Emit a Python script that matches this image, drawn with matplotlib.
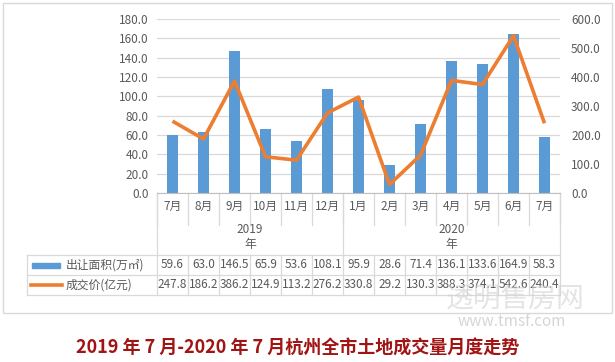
import numpy as np
import matplotlib.pyplot as plt
from matplotlib import transforms

plt.rcParams['font.family'] = ['Noto Sans CJK SC', 'DejaVu Sans']

months = ['7月', '8月', '9月', '10月', '11月', '12月', '1月', '2月', '3月', '4月', '5月', '6月', '7月']
years = ['2019\n年', '2020\n年']
year_spans = [(0, 5), (6, 12)]
area = [59.6, 63.0, 146.5, 65.9, 53.6, 108.1, 95.9, 28.6, 71.4, 136.1, 133.6, 164.9, 58.3]
price = [247.8, 186.2, 386.2, 124.9, 113.2, 276.2, 330.8, 29.2, 130.3, 388.3, 374.1, 542.6, 240.4]
area_label = '出让面积(万㎡)'
price_label = '成交价(亿元)'
title = '2019 年 7 月-2020 年 7 月杭州全市土地成交量月度走势'

W, H = 615, 362
def fx(x):
    return x / W
def fy(y):
    return 1 - y / H

blue = '#5b9bd5'
orange = '#ed7d31'
grey_txt = '#595959'
line_c = '#d9d9d9'

fig = plt.figure(figsize=(6.15, 3.62), dpi=100)

# outer chart border
fig.patches.append(plt.Rectangle((fx(3), fy(313)), fx(609), (310) / H, transform=fig.transFigure,
                                 fill=False, edgecolor='#d9d9d9', lw=1))

ax = fig.add_axes([fx(157), fy(193), fx(560 - 157), (193 - 19) / H])
x = np.arange(len(months))
ax.bar(x, area, width=0.33, color=blue, zorder=2)
ax.set_xlim(-0.5, len(months) - 0.5)
ax.set_ylim(0, 180)
ax.set_yticks(np.arange(0, 181, 20))
ax.set_yticklabels(['%.1f' % v for v in np.arange(0, 181, 20)])
ax.grid(axis='y', color=line_c, lw=0.9, zorder=0)
ax.set_axisbelow(True)
ax.set_xticks([])
for s in ['left', 'right', 'top']:
    ax.spines[s].set_visible(False)
ax.spines['bottom'].set_color('#bfbfbf')
ax.tick_params(axis='y', length=0, labelsize=8.5, labelcolor=grey_txt, pad=6)

ax2 = ax.twinx()
ax2.plot(x, price, color=orange, lw=2.6, solid_joinstyle='round', solid_capstyle='butt')
ax2.set_ylim(0, 600)
ax2.set_yticks(np.arange(0, 601, 100))
ax2.set_yticklabels(['%.1f' % v for v in np.arange(0, 601, 100)])
for s in ['left', 'right', 'top', 'bottom']:
    ax2.spines[s].set_visible(False)
ax2.tick_params(axis='y', length=0, labelsize=8.5, labelcolor=grey_txt, pad=8)

# table / category area: x in data units, y in figure units
tr = transforms.blended_transform_factory(ax.transData, fig.transFigure)
lkw = dict(color=line_c, lw=0.9, transform=tr, clip_on=False)
edges = np.arange(len(months) + 1) - 0.5
for e in edges:
    ax.plot([e, e], [fy(193), fy(225)], **lkw)
year_edges = [edges[0], edges[6], edges[-1]]
for e in year_edges:
    ax.plot([e, e], [fy(193), fy(255)], **lkw)
for e in edges:
    ax.plot([e, e], [fy(255), fy(295)], **lkw)
for yy in [255, 275, 295]:
    fig.add_artist(plt.Line2D([fx(27), fx(560)], [fy(yy), fy(yy)], color=line_c, lw=0.9))
fig.add_artist(plt.Line2D([fx(27), fx(27)], [fy(255), fy(295)], color=line_c, lw=0.9))

tkw = dict(transform=tr, ha='center', va='center', fontsize=8.5, color=grey_txt, clip_on=False)
for i, m in enumerate(months):
    ax.text(i, fy(206), m, **tkw)
    ax.text(i, fy(265), '%.1f' % area[i], **tkw)
    ax.text(i, fy(285), '%.1f' % price[i], **tkw)
for (a, b), yl in zip(year_spans, years):
    ax.text((a + b) / 2, fy(237), yl, linespacing=1.25, **tkw)

# legend keys inside the table
fig.patches.append(plt.Rectangle((fx(32), fy(268)), fx(28), 5 / H, transform=fig.transFigure,
                                 color=blue))
fig.add_artist(plt.Line2D([fx(31), fx(62)], [fy(284.5), fy(284.5)], color=orange, lw=2.6))
fig.text(fx(66), fy(265), area_label, ha='left', va='center', fontsize=8.5, color=grey_txt)
fig.text(fx(66), fy(285), price_label, ha='left', va='center', fontsize=8.5, color=grey_txt)

# watermark
fig.text(fx(515), fy(300), '透明售房网', ha='center', va='center', fontsize=20, color='#d2d2d2', alpha=0.6)
fig.text(fx(512), fy(321), 'www.tmsf.com', ha='center', va='center', fontsize=11, color='#d6d6d6')

fig.text(fx(298), fy(348), title, ha='center', va='center', fontsize=13, fontweight='bold',
         color='#a01414')

fig.savefig('out.png', dpi=100, facecolor='white')
